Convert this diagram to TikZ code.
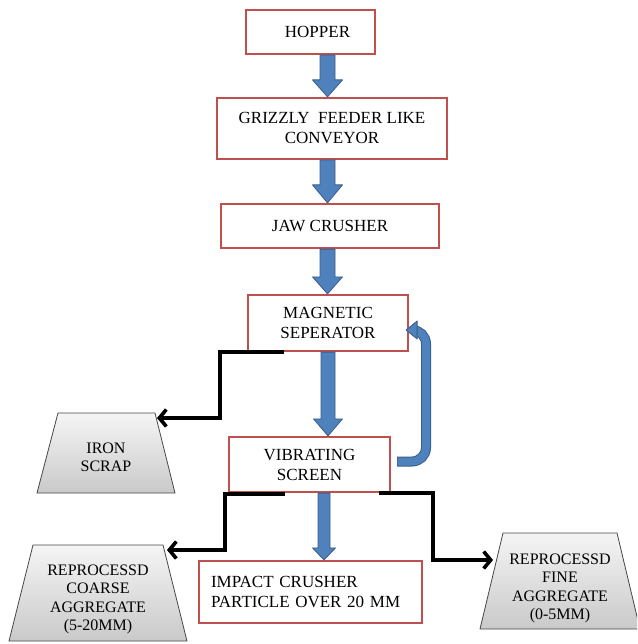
\documentclass[tikz,border=0pt]{standalone}
\usepackage{fontspec}
\setmainfont{Liberation Serif}
\newfontfamily\tnr{Liberation Serif}
\usetikzlibrary{calc,arrows.meta}
\definecolor{boxred}{RGB}{192,80,77}
\definecolor{arrblue}{RGB}{79,129,189}
\definecolor{arrdark}{RGB}{56,93,138}
\definecolor{trapedge}{RGB}{70,70,70}
\newcommand{\blockarrow}[5]{%
  \filldraw[blockarr] let \p1=(#1), \p2=(#2) in
  (\x1-#3,\y1) -- (\x1+#3,\y1) -- (\x1+#3,\y2+#5) -- (\x1+#4,\y2+#5) -- (\x1,\y2)
  -- (\x1-#4,\y2+#5) -- (\x1-#3,\y2+#5) -- cycle;}
\tikzset{
  box/.style={draw=boxred, line width=2.2pt, fill=white, inner sep=0pt, align=center,
    font=\tnr\fontsize{17}{20}\selectfont},
  blockarr/.style={fill=arrblue, draw=arrdark, line width=0.8pt, line join=round},
  trap/.style={draw=trapedge, line width=0.8pt, top color=gray!8, bottom color=gray!42},
  traptext/.style={align=center, inner sep=0pt, font=\tnr\fontsize{16}{18.4}\selectfont},
  conn/.style={line width=3.6pt, black, -{Straight Barb[length=7pt,width=17pt]}},
}
\begin{document}
\begin{tikzpicture}[x=1pt,y=-1pt]
\useasboundingbox (0,0) rectangle (637,644);
\clip (0,0) rectangle (637,644);
% boxes
\node[box, minimum width=129pt, minimum height=44pt] (hopper) at (310.5,32) {\hspace*{14pt}HOPPER};
\node[box, minimum width=230pt, minimum height=61pt] (grizzly) at (332,128.5) {GRIZZLY\ \ FEEDER LIKE\\CONVEYOR};
\node[box, minimum width=218pt, minimum height=44pt] (jaw) at (330,226) {JAW CRUSHER};
\node[box, minimum width=160pt, minimum height=56pt] (mag) at (328,323) {MAGNETIC\\SEPERATOR};
\node[box, minimum width=161pt, minimum height=55pt] (vib) at (309.5,464.5) {VIBRATING\\SCREEN};
\node[box, minimum width=223pt, minimum height=62pt, text width=199pt, align=left] (impact) at (310.5,592) {IMPACT CRUSHER\\PARTICLE OVER 20 MM};
% trapezoids
\path[trap] (58,413) -- (155,413) -- (175,493) -- (37,493) -- cycle;
\node[traptext] (iron) at (106,457.5) {IRON\\SCRAP};
\path[trap] (33,545) -- (163,545) -- (187,641) -- (9,641) -- cycle;
\node[traptext] (coarse) at (98,599.5) {REPROCESSD\\COARSE\\AGGREGATE\\(5-20MM)};
\path[trap] (503,533) -- (617,533) -- (640,629) -- (480,629) -- cycle;
\node[traptext] (fine) at (560,588.5) {REPROCESSD\\FINE\\AGGREGATE\\(0-5MM)};
% block arrows
\coordinate (c1) at (327.5,0);
\coordinate (c2) at (328,0);
\coordinate (c3) at (324,0);
\blockarrow{hopper.south -| c1}{grizzly.north -| c1}{7.5pt}{15pt}{17pt}
\blockarrow{grizzly.south -| c1}{jaw.north -| c1}{7.5pt}{15pt}{18pt}
\blockarrow{jaw.south -| c1}{mag.north -| c1}{7.5pt}{15pt}{17pt}
\blockarrow{mag.south -| c2}{vib.north -| c2}{7pt}{14.5pt}{17pt}
\blockarrow{vib.south -| c3}{impact.north -| c3}{6pt}{11.5pt}{12pt}
% feedback arrow
\coordinate (fb) at (426,0);
\draw[line width=10pt, arrdark, rounded corners=14pt]
  ($(vib.east)+(6,-3)$) -- ($(vib.east -| fb)+(0,-3)$) -- ($(mag.east -| fb)+(0,7)$) -- ($(mag.east)+(8,7)$);
\draw[line width=8pt, arrblue, rounded corners=14pt]
  ($(vib.east)+(6.5,-3)$) -- ($(vib.east -| fb)+(0,-3)$) -- ($(mag.east -| fb)+(0,7)$) -- ($(mag.east)+(8.5,7)$);
\filldraw[blockarr] ($(mag.east)+(8,-2)$) -- ($(mag.east)+(-3,7)$) -- ($(mag.east)+(8,16)$) -- cycle;
% black connectors
\coordinate (k1) at (220,0);
\coordinate (k2) at (225,0);
\coordinate (k3) at (433,0);
\coordinate (ironin) at (157,418);
\coordinate (coarsein) at (167,550);
\coordinate (finein) at (493,560);
\draw[conn] ($(mag.south west)+(37,0)$) -- (mag.south west -| k1) -- (ironin -| k1) -- (ironin);
\draw[conn] ($(vib.south west)+(57,1)$) -- ($(vib.south west -| k2)+(0,1)$) -- (coarsein -| k2) -- (coarsein);
\draw[conn] ($(vib.south east)+(-12,0)$) -- (vib.south east -| k3) -- (finein -| k3) -- (finein);
\end{tikzpicture}
\end{document}
